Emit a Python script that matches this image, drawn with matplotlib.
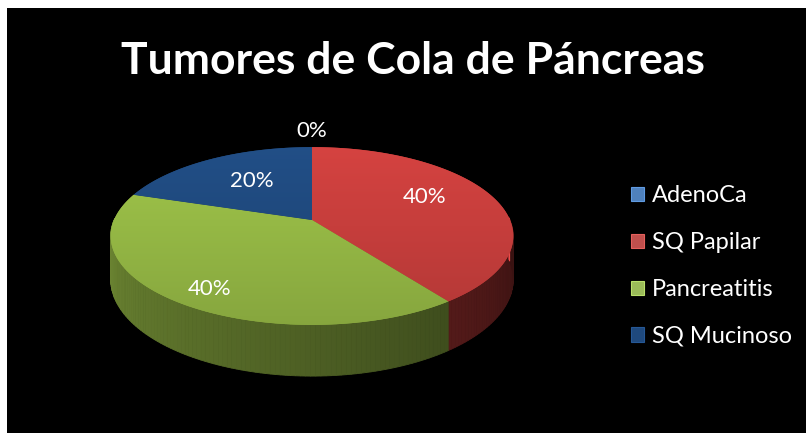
import numpy as np
import matplotlib
matplotlib.use('Agg')
import matplotlib.pyplot as plt
from matplotlib.patches import Polygon, Rectangle, Patch
from matplotlib.colors import to_rgb

plt.rcParams['font.family'] = ['Lato', 'DejaVu Sans']

# case counts per diagnosis
labels = ['AdenoCa', 'SQ Papilar', 'Pancreatitis', 'SQ Mucinoso']
counts = [0, 2, 2, 1]
topColors = ['#4F81BD', '#C63E3C', '#95B845', '#1F497D']
legendColors = ['#4F81BD', '#C0504D', '#9BBB59', '#1F497D']

W, H = 806, 433
# pie layout (pixels) and perspective strength
CX, CY = 312, 220
RX, RY = 198, 86
K = 0.18
DEPTH = 42
# where each percentage label sits: radius factor, extra drop
labelR = [1.28, 0.62, 0.78, 0.56]
labelDrop = [0, -7, 8, -3]


def shade(color, f):
    return tuple(np.clip(np.array(to_rgb(color)) * f, 0, 1))


def proj(theta, r=1.0, z=0.0):
    xd = r * np.cos(theta)
    yd = r * np.sin(theta)
    s = 1.0 / (1.0 + K * yd)
    return CX + RX * xd * s, CY - RY * yd * s + z * s


fig = plt.figure(figsize=(W / 100, H / 100), dpi=100, facecolor='white')
ax = fig.add_axes([0, 0, 1, 1])
ax.set_xlim(0, W)
ax.set_ylim(H, 0)
ax.axis('off')
ax.add_patch(Rectangle((7, 8), W - 7, H - 8, facecolor='black', edgecolor='none', zorder=0))

fracs = np.array(counts, dtype=float) / sum(counts)
# slices run clockwise from 12 o'clock
ends = np.pi / 2 - 2 * np.pi * np.cumsum(fracs)
starts = np.concatenate([[np.pi / 2], ends[:-1]])

# side walls, only the front half shows
for i in range(len(labels)):
    if fracs[i] == 0:
        continue
    a0, a1 = ends[i], starts[i]
    ts = np.linspace(a0, a1, 120)
    for t0, t1 in zip(ts[:-1], ts[1:]):
        if np.sin((t0 + t1) / 2) > 0.02:
            continue
        ang = np.degrees((t0 + t1) / 2) % 360
        f = 0.75 - (ang - 180) / 180 * 0.47
        x0, y0 = proj(t0)
        x1, y1 = proj(t1)
        x2, y2 = proj(t1, z=DEPTH)
        x3, y3 = proj(t0, z=DEPTH)
        ax.add_patch(Polygon([(x0, y0), (x1, y1), (x2, y2), (x3, y3)],
                             closed=True, facecolor=shade(topColors[i], f),
                             edgecolor=shade(topColors[i], f), linewidth=0.6, zorder=2))

# top faces with a soft back-to-front gradient
bx0, by0 = CX - RX - 5, CY - RY / (1 + K) - 5
bx1, by1 = CX + RX + 5, CY + RY / (1 - K) + 5
grad = np.linspace(0, 1, 100)[:, None]
for i in range(len(labels)):
    if fracs[i] == 0:
        continue
    ts = np.linspace(starts[i], ends[i], 200)
    pts = [(CX, CY)] + [proj(t) for t in ts]
    poly = Polygon(pts, closed=True, facecolor=topColors[i], edgecolor='none', zorder=3)
    ax.add_patch(poly)
    light = np.array(shade(topColors[i], 1.08))
    dark = np.array(shade(topColors[i], 0.9))
    img = light[None, None, :] * (1 - grad[..., None]) + dark[None, None, :] * grad[..., None]
    img = np.repeat(img, 2, axis=1)
    im = ax.imshow(img, extent=(bx0, bx1, by1, by0), aspect='auto', zorder=3.5,
                   interpolation='bilinear')
    im.set_clip_path(poly)

ax.set_xlim(0, W)
ax.set_ylim(H, 0)

# percentage labels
for i in range(len(labels)):
    mid = (starts[i] + ends[i]) / 2
    x, y = proj(mid, labelR[i])
    ax.text(x, y + labelDrop[i], f'{fracs[i] * 100:.0f}%', color='white', fontsize=16,
            ha='center', va='center', zorder=6)

ax.text(413, 74, 'Tumores de Cola de Páncreas', color='white', fontsize=32,
        fontweight='bold', ha='center', va='baseline', zorder=6)

handles = [Patch(facecolor=c, edgecolor=shade(c, 1.2), linewidth=0.8) for c in legendColors]
leg = ax.legend(handles, labels, loc='center left', bbox_to_anchor=(631, 266),
                bbox_transform=ax.transData, frameon=False, fontsize=17,
                labelcolor='white', handlelength=0.55, handleheight=0.55,
                handletextpad=0.35, labelspacing=1.1, borderpad=0, borderaxespad=0)
leg.set_zorder(7)

fig.savefig('out.png', dpi=100, facecolor='white')
